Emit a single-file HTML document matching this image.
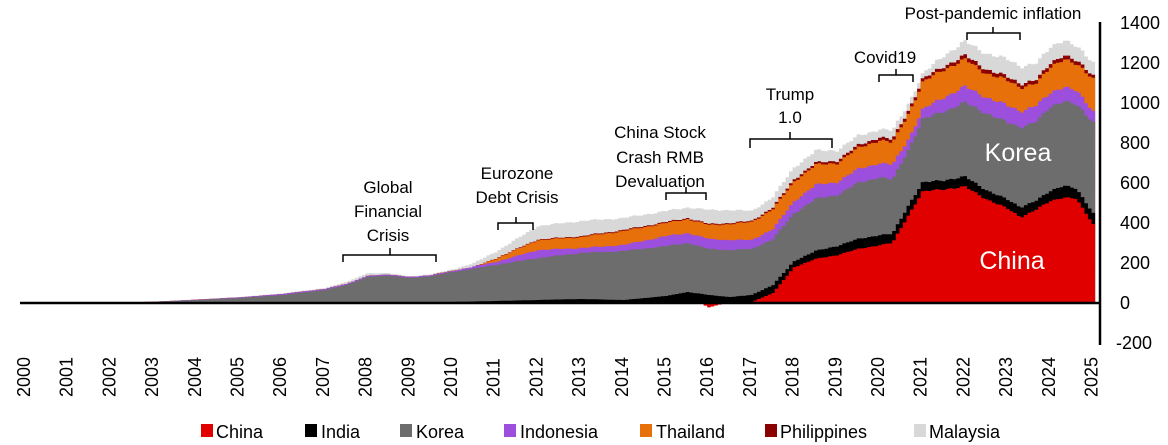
<!DOCTYPE html>
<html><head><meta charset="utf-8"><style>
body{margin:0;background:#fff;}
svg{display:block;font-family:"Liberation Sans",Arial,sans-serif;}
</style></head><body>
<svg id="s" width="1168" height="445" viewBox="0 0 1168 445">
<g id="areas"></g>
<line x1="20" y1="303" x2="1100" y2="303" stroke="#000" stroke-width="2.5"/>
<line x1="1100" y1="22" x2="1100" y2="345" stroke="#000" stroke-width="2.5"/>
<g font-size="18" fill="#000">
<text x="1120" y="29">1400</text><text x="1120" y="69">1200</text><text x="1120" y="109">1000</text>
<text x="1120" y="149">800</text><text x="1120" y="189">600</text><text x="1120" y="229">400</text>
<text x="1120" y="269">200</text><text x="1120" y="309">0</text><text x="1116" y="349">-200</text>
</g>
<g id="years" font-size="18"></g>
<text x="1018" y="161" font-size="25" fill="#fff" text-anchor="middle">Korea</text>
<text x="1012" y="269" font-size="25" fill="#fff" text-anchor="middle">China</text>
<g font-size="17" text-anchor="middle" fill="#000">
<text x="993" y="19">Post-pandemic inflation</text>
<text x="885" y="63">Covid19</text>
<text x="790" y="100">Trump</text><text x="790" y="123">1.0</text>
<text x="660" y="138">China Stock</text><text x="660" y="163">Crash RMB</text><text x="660" y="187">Devaluation</text>
<text x="517" y="179">Eurozone</text><text x="517" y="203">Debt Crisis</text>
<text x="388" y="193">Global</text><text x="388" y="217">Financial</text><text x="388" y="241">Crisis</text>
</g>
<g fill="none" stroke="#000" stroke-width="1.5">
<path d="M967,40 V33 H1020 V40 M993,33 V27"/>
<path d="M879,82 V75 H913 V82 M896,75 V69"/>
<path d="M750,148 V139 H832 V148 M790,139 V132"/>
<path d="M666,200 V193 H706 V200 M686,193 V187"/>
<path d="M498,230 V223 H533 V230 M516,223 V217"/>
<path d="M343,262 V255 H436 V262 M390,255 V248"/>
</g>
<g font-size="18">
<rect x="201" y="424" width="12" height="13" fill="#e00000"/><text x="216" y="438">China</text>
<rect x="305" y="424" width="12" height="13" fill="#000"/><text x="321" y="438">India</text>
<rect x="400" y="424" width="12" height="13" fill="#6d6d6d"/><text x="416" y="438">Korea</text>
<rect x="504" y="424" width="12" height="13" fill="#9b4fdc"/><text x="520" y="438">Indonesia</text>
<rect x="640" y="424" width="12" height="13" fill="#e8700a"/><text x="656" y="438">Thailand</text>
<rect x="765" y="424" width="12" height="13" fill="#8b0000"/><text x="780" y="438">Philippines</text>
<rect x="914" y="424" width="12" height="13" fill="#d8d8d8"/><text x="929" y="438">Malaysia</text>
</g>
</svg>
<script>
var X=function(t){return 24+(t-2000)*42.7;};
var Y=function(v){return 303-v*0.2;};
var L={
china:[[2000,0],[2015.8,0],[2016,-22],[2016.3,-5],[2016.6,0],[2017,5],[2017.5,50],[2018,180],[2018.5,220],[2019,240],[2019.5,270],[2020,290],[2020.3,300],[2020.7,450],[2021,555],[2021.5,570],[2022,580],[2022.5,520],[2023,470],[2023.3,430],[2023.7,470],[2024,510],[2024.3,530],[2024.6,520],[2025,395]],
india:[[2000,0],[2009,2],[2010,5],[2012,15],[2013,20],[2014,15],[2015,35],[2015.5,55],[2016,40],[2016.5,30],[2017,40],[2017.5,90],[2018,210],[2018.5,260],[2019,285],[2019.5,320],[2020,340],[2020.3,345],[2020.7,500],[2021,600],[2021.5,615],[2022,630],[2022.5,565],[2023,515],[2023.3,480],[2023.7,515],[2024,560],[2024.3,590],[2024.6,570],[2025,450]],
korea:[[2000,0],[2002,2],[2003,5],[2004,15],[2005,25],[2006,40],[2007,65],[2007.5,90],[2008,130],[2008.5,138],[2009,125],[2009.5,135],[2010,155],[2011,190],[2012,225],[2013,250],[2014,260],[2015,285],[2015.5,300],[2016,270],[2016.5,265],[2017,270],[2017.5,320],[2018,450],[2018.5,520],[2019,540],[2019.5,600],[2020,630],[2020.3,615],[2020.7,780],[2021,915],[2021.5,960],[2022,1000],[2022.5,950],[2023,900],[2023.3,880],[2023.7,910],[2024,980],[2024.3,1015],[2024.6,990],[2025,905]],
indo:[[2000,0],[2002,2],[2003,6],[2004,17],[2005,28],[2006,45],[2007,70],[2007.5,95],[2008,135],[2008.5,143],[2009,130],[2009.5,140],[2010,160],[2011,205],[2012,265],[2013,275],[2014,290],[2015,335],[2015.5,350],[2016,320],[2016.5,315],[2017,315],[2017.5,370],[2018,510],[2018.5,590],[2019,605],[2019.5,670],[2020,700],[2020.3,690],[2020.7,830],[2021,965],[2021.5,1030],[2022,1080],[2022.5,1030],[2023,985],[2023.3,960],[2023.7,990],[2024,1050],[2024.3,1085],[2024.6,1060],[2025,960]],
thai:[[2000,0],[2002,2],[2003,6],[2004,17],[2005,28],[2006,45],[2007,70],[2007.5,95],[2008,135],[2008.5,143],[2009,130],[2009.5,140],[2010,162],[2010.5,180],[2011,220],[2012,315],[2013,330],[2014,360],[2015,400],[2015.5,420],[2016,390],[2016.5,395],[2017,405],[2017.5,470],[2018,610],[2018.5,690],[2019,700],[2019.5,775],[2020,815],[2020.3,800],[2020.7,960],[2021,1100],[2021.5,1170],[2022,1215],[2022.5,1150],[2023,1110],[2023.3,1080],[2023.7,1100],[2024,1180],[2024.3,1225],[2024.6,1190],[2025,1125]],
phil:[[2000,0],[2002,2],[2003,6],[2004,17],[2005,28],[2006,45],[2007,70],[2007.5,95],[2008,135],[2008.5,143],[2009,130],[2009.5,140],[2010,162],[2010.5,181],[2011,222],[2012,318],[2013,334],[2014,365],[2015,405],[2015.5,425],[2016,395],[2016.5,400],[2017,410],[2017.5,478],[2018,620],[2018.5,700],[2019,712],[2019.5,788],[2020,830],[2020.3,815],[2020.7,975],[2021,1115],[2021.5,1185],[2022,1235],[2022.5,1170],[2023,1128],[2023.3,1098],[2023.7,1118],[2024,1198],[2024.3,1245],[2024.6,1208],[2025,1140]],
mal:[[2000,0],[2002,2],[2003,7],[2004,18],[2005,30],[2006,48],[2007,75],[2007.5,105],[2008,148],[2008.5,150],[2009,133],[2009.5,145],[2010,168],[2010.5,200],[2011,255],[2012,385],[2013,410],[2014,425],[2015,460],[2015.5,478],[2016,465],[2016.5,465],[2017,460],[2017.5,530],[2018,680],[2018.5,760],[2019,765],[2019.5,835],[2020,870],[2020.3,860],[2020.7,1010],[2021,1140],[2021.5,1240],[2022,1305],[2022.5,1250],[2023,1215],[2023.3,1185],[2023.7,1200],[2024,1280],[2024.3,1320],[2024.6,1280],[2025,1205]]
};
function interp(a,t){for(var i=1;i<a.length;i++){if(t<=a[i][0]){var p=a[i-1],q=a[i];return p[1]+(q[1]-p[1])*(t-p[0])/(q[0]-p[0]);}}return a[a.length-1][1];}
var order=[["mal","#d8d8d8"],["phil","#8b0000"],["thai","#e8700a"],["indo","#9b4fdc"],["korea","#6d6d6d"],["india","#000"],["china","#e00000"]];
var g=document.getElementById("areas"),h="";
order.forEach(function(o){
 var a=L[o[0]],d="M"+X(2000)+","+Y(0);
 for(var m=0;m<=300;m++){var t=2000+m/12;var v=interp(a,t);var n=(Math.sin(m*1.7)*0.006+Math.sin(m*0.6)*0.005)*v;v+=n;
  d+=" L"+X(t).toFixed(1)+","+Y(v).toFixed(1)+" L"+X(t+1/12).toFixed(1)+","+Y(v).toFixed(1);}
 d+=" L"+X(2025+1/12)+","+Y(0)+"Z";
 h+='<path d="'+d+'" fill="'+o[1]+'"/>';
});
g.innerHTML=h;
var yg=document.getElementById("years"),s="";
for(var y=2000;y<=2025;y++){var x=X(y)+6;s+='<text transform="translate('+x.toFixed(1)+',397) rotate(-90)">'+y+'</text>';}
yg.innerHTML=s;
</script>
</body></html>
